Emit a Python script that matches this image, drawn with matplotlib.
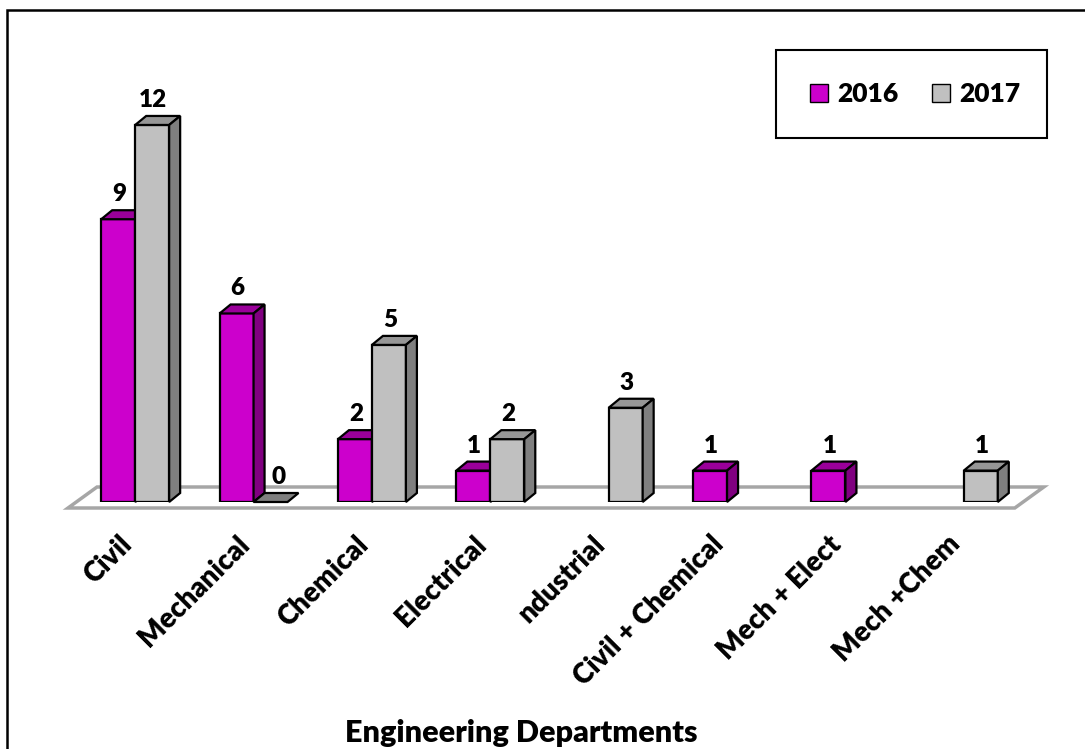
import matplotlib
matplotlib.use('Agg')
import matplotlib.pyplot as plt
from matplotlib.patches import Polygon, Rectangle, Patch
from matplotlib.transforms import ScaledTranslation

# data (None = no bar drawn)
departments = ['Civil', 'Mechanical', 'Chemical', 'Electrical', 'ndustrial',
               'Civil + Chemical', 'Mech + Elect', 'Mech +Chem']
students_2016 = [9, 6, 2, 1, None, 1, 1, None]
students_2017 = [12, 0, 5, 2, 3, None, None, 1]
years = ['2016', '2017']

front_colors = {'2016': '#CC00CC', '2017': '#C0C0C0'}
top_colors = {'2016': '#9A009A', '2017': '#969696'}
side_colors = {'2016': '#800080', '2017': '#7F7F7F'}

W, H = 1085, 749
PX_CAT = 118.4   # pixels per category
PX_VAL = 31.42   # pixels per unit on the value axis
BAR_W = 0.287
DEPTH_X = 11 / PX_CAT
DEPTH_Y = 9 / PX_VAL
WEIGHT = 'heavy'

plt.rcParams['font.family'] = ['Lato', 'DejaVu Sans']


def draw_floor(ax):
    '''
    Flat grey floor plane under the bars
    '''
    fl, fr, bl, br = -8, 939, 21, 968  # pixel offsets from the plot's left edge
    pts = [(fl / PX_CAT, -6 / PX_VAL), (fr / PX_CAT, -6 / PX_VAL),
           (br / PX_CAT, 15 / PX_VAL), (bl / PX_CAT, 15 / PX_VAL)]
    ax.add_patch(Polygon(pts, closed=True, facecolor='white', edgecolor='#A6A6A6',
                         linewidth=2.5, clip_on=False, zorder=1))


def draw_series(ax, values, year, shift):
    '''
    Draw one series as pseudo 3D bars: front face, top face, side face
    '''
    for i, v in enumerate(values):
        if v is None:
            continue
        x0 = i + 0.5 + shift
        ax.bar(x0, v, BAR_W, align='edge', color=front_colors[year],
               edgecolor='black', linewidth=1.6, zorder=3)
        top = [(x0, v), (x0 + BAR_W, v), (x0 + BAR_W + DEPTH_X, v + DEPTH_Y),
               (x0 + DEPTH_X, v + DEPTH_Y)]
        side = [(x0 + BAR_W, 0), (x0 + BAR_W + DEPTH_X, DEPTH_Y),
                (x0 + BAR_W + DEPTH_X, v + DEPTH_Y), (x0 + BAR_W, v)]
        ax.add_patch(Polygon(top, closed=True, facecolor=top_colors[year] if v else side_colors[year],
                             edgecolor='black', linewidth=1.6, zorder=3, clip_on=False))
        if v:
            ax.add_patch(Polygon(side, closed=True, facecolor=side_colors[year],
                                 edgecolor='black', linewidth=1.6, zorder=3, clip_on=False))
        dx = 8 if v == 0 else 1
        ax.annotate(str(v), (x0 + BAR_W / 2, v), xytext=(dx, 18), textcoords='offset pixels',
                    ha='center', va='baseline', fontsize=17.5, fontweight=WEIGHT,
                    annotation_clip=False, zorder=5)


fig = plt.figure(figsize=(W / 100, H / 100), dpi=100)
ax = fig.add_axes([76 / W, (H - 502) / H, 947 / W, 13 * PX_VAL / H])
ax.set_xlim(0, len(departments))
ax.set_ylim(0, 13)
for s in ax.spines.values():
    s.set_visible(False)
ax.set_yticks([])
ax.patch.set_alpha(0)

draw_floor(ax)
draw_series(ax, students_2016, '2016', -BAR_W)
draw_series(ax, students_2017, '2017', 0)

ax.set_xticks([i + 0.5 for i in range(len(departments))])
ax.set_xticklabels(departments, rotation=45, ha='right', va='center',
                   rotation_mode='anchor', fontsize=20, fontweight=WEIGHT)
ax.tick_params(axis='x', length=0, pad=27.5)
for lab in ax.get_xticklabels():
    lab.set_transform(lab.get_transform() + ScaledTranslation(-0.08, 0, fig.dpi_scale_trans))

fig.text(521 / W, 1 - 742 / H, 'Engineering Departments', ha='center', va='baseline',
         fontsize=22, fontweight=WEIGHT)

# legend box
fig.add_artist(Rectangle((776 / W, 1 - 138 / H), 271 / W, 88 / H, fill=False,
                         edgecolor='black', linewidth=1.5, transform=fig.transFigure))
handles = [Patch(facecolor=front_colors[y], edgecolor='black', linewidth=1) for y in years]
fig.legend(handles, years, loc='center', bbox_to_anchor=(915 / W, 1 - 94 / H), ncol=2,
           frameon=False, handlelength=0.7, handleheight=0.7, handletextpad=0.35,
           columnspacing=1.25, prop={'size': 19, 'weight': WEIGHT})

# outer chart border
fig.add_artist(Rectangle((7 / W, -0.1), 1.2, (H - 10) / H + 0.1, fill=False,
                         edgecolor='black', linewidth=1.8, transform=fig.transFigure))

fig.savefig('out.png', dpi=100)
